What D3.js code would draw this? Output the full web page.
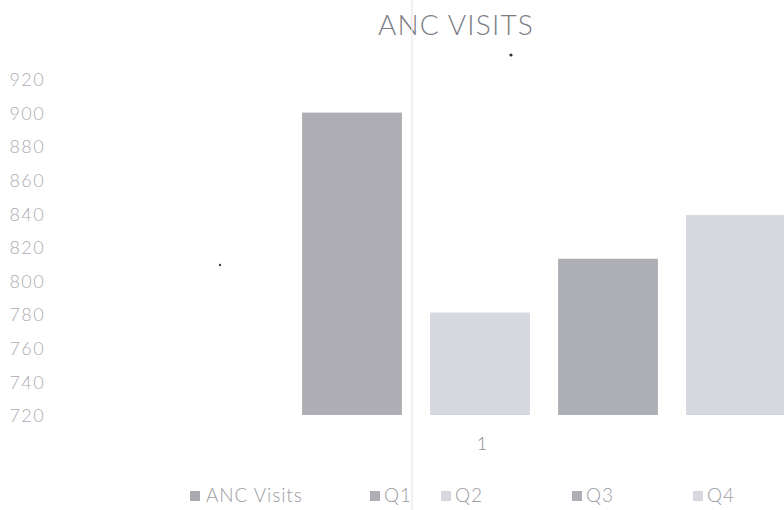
<!DOCTYPE html>
<html>
<head>
<meta charset="utf-8">
<script src="https://cdn.jsdelivr.net/npm/d3@7"></script>
<style>
  body { margin: 0; background: #fff; }
  text { font-family: Lato, "Open Sans", sans-serif; font-weight: 300; }
</style>
</head>
<body>
<svg id="chart"></svg>
<script>
// Data
const categories = ['1'];
const seriesNames = ['Q1', 'Q2', 'Q3', 'Q4'];
const seriesValues = [900, 781, 813, 839];
const yTicks = [720, 740, 760, 780, 800, 820, 840, 860, 880, 900, 920];
const legendItems = ['ANC Visits', 'Q1', 'Q2', 'Q3', 'Q4'];

const config = {
    width: 784,
    height: 510,
    colors: { 'ANC Visits': '#a9a9b0', Q1: '#adadb3', Q2: '#d7d7df', Q3: '#aeaeb5', Q4: '#d7d7df' }
};

const svg = d3.select('#chart')
    .attr('width', config.width)
    .attr('height', config.height);

// Scales
const y = d3.scaleLinear().domain([720, 920]).range([415, 79]);
const x0 = d3.scaleBand().domain(categories).range([180, 784]);
const x1 = d3.scaleBand().domain(seriesNames).range([288, 800])
    .paddingInner(0.22).paddingOuter(0.11);

// Title
svg.append('text')
    .attr('x', 456)
    .attr('y', 35)
    .attr('text-anchor', 'middle')
    .attr('font-size', 28)
    .attr('letter-spacing', 1.2)
    .attr('fill', '#7d7d85')
    .text('ANC VISITS');

// Y axis labels
const yAxis = d3.axisLeft(y).tickValues(yTicks).tickSize(0).tickPadding(0);
const yg = svg.append('g').attr('transform', 'translate(45,1)').call(yAxis);
yg.select('.domain').remove();
yg.selectAll('text')
    .attr('font-size', 18)
    .attr('letter-spacing', 1.4)
    .attr('fill', '#acacb2')
    .style('font-family', 'Lato, sans-serif')
    .style('font-weight', 300);

// Bars
svg.append('g').selectAll('rect')
    .data(seriesNames.map((s, i) => ({ name: s, value: seriesValues[i] })))
    .enter()
    .append('rect')
    .attr('x', d => x1(d.name))
    .attr('y', d => y(d.value))
    .attr('width', x1.bandwidth())
    .attr('height', d => y(720) - y(d.value))
    .attr('fill', d => config.colors[d.name]);

// Category axis label
const xAxis = d3.axisBottom(x0).tickSize(0).tickPadding(0);
const xg = svg.append('g').attr('transform', 'translate(0,437)').call(xAxis);
xg.select('.domain').remove();
xg.selectAll('text')
    .attr('font-size', 18)
    .attr('fill', '#8d8d93')
    .style('font-family', 'Lato, sans-serif')
    .style('font-weight', 300);

// Legend
const legendX = [190, 370, 441, 572, 693];
const legend = svg.append('g').selectAll('g')
    .data(legendItems)
    .enter()
    .append('g')
    .attr('transform', (d, i) => `translate(${legendX[i]}, 491)`);

legend.append('rect')
    .attr('width', 10)
    .attr('height', 10)
    .attr('fill', d => config.colors[d]);

legend.append('text')
    .attr('x', d => d === 'ANC Visits' ? 16 : 14)
    .attr('y', 11)
    .attr('font-size', 19)
    .attr('letter-spacing', 0.9)
    .attr('fill', '#9c9ca3')
    .text(d => d);

// Scan artefacts: fold line and specks
svg.append('line')
    .attr('x1', 412).attr('x2', 412)
    .attr('y1', 0).attr('y2', config.height)
    .attr('stroke', '#ece6ea')
    .attr('stroke-width', 1.2);
svg.append('circle').attr('cx', 511).attr('cy', 55).attr('r', 1.6).attr('fill', '#333');
svg.append('circle').attr('cx', 220).attr('cy', 265).attr('r', 1.2).attr('fill', '#444');
</script>
</body>
</html>
